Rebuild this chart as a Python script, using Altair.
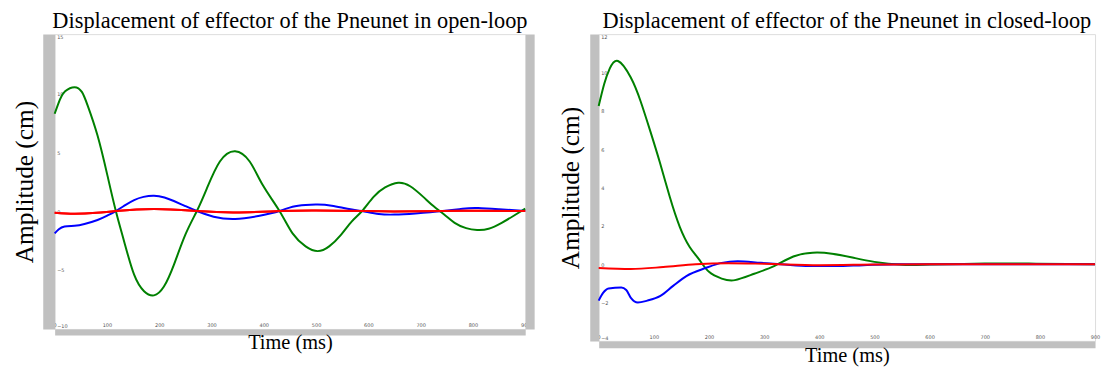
import altair as alt
import pandas as pd

# ---------------- open-loop panel ----------------
ol_green_t = [0, 10, 20, 38, 52, 63, 82, 101, 117, 133, 152, 171, 190, 209, 228, 250, 272, 291, 316, 345, 373, 398, 430, 455, 480, 503, 525, 548, 568, 588, 610, 632, 657, 680, 705, 725, 745, 765, 787, 808, 830, 855, 878, 900]
ol_green_v = [8.25, 9.45, 10.15, 10.5, 10.1, 8.96, 6.4, 3.0, 0.0, -2.6, -5.4, -6.8, -7.15, -6.4, -4.56, -2.0, 0.0, 1.9, 4.2, 5.07, 4.2, 2.2, 0.0, -1.9, -3.0, -3.4, -3.0, -2.0, -0.9, 0.0, 1.2, 2.0, 2.4, 2.1, 1.2, 0.4, -0.3, -1.0, -1.45, -1.6, -1.5, -1.0, -0.4, 0.2]

ol_blue_t = [0, 8, 19, 38, 57, 82, 100, 117, 135, 152, 170, 190, 210, 228, 250, 272, 304, 345, 392, 430, 455, 480, 503, 530, 560, 588, 620, 650, 690, 742, 780, 810, 850, 900]
ol_blue_v = [-1.9, -1.55, -1.32, -1.25, -1.1, -0.76, -0.4, 0.0, 0.5, 0.93, 1.2, 1.3, 1.15, 0.85, 0.42, 0.0, -0.48, -0.68, -0.4, 0.0, 0.37, 0.52, 0.55, 0.45, 0.2, 0.0, -0.25, -0.3, -0.2, 0.0, 0.2, 0.25, 0.15, 0.0]

ol_red_t = [0, 38, 80, 117, 190, 272, 345, 430, 500, 588, 650, 742, 810, 900]
ol_red_v = [-0.14, -0.23, -0.15, 0.0, 0.17, 0.0, -0.12, 0.0, 0.05, 0.0, -0.03, 0.0, 0.02, 0.0]

# ---------------- closed-loop panel ----------------
cl_green_t = [0, 10, 20, 35, 58, 76, 94, 111, 129, 147, 165, 182, 200, 223, 247, 282, 318, 353, 388, 423, 460, 500, 550, 600, 700, 780, 850, 900]
cl_green_v = [8.25, 9.4, 10.2, 10.6, 9.75, 8.5, 6.9, 5.3, 3.5, 1.95, 0.9, 0.25, -0.4, -0.75, -0.83, -0.5, -0.1, 0.4, 0.6, 0.55, 0.35, 0.12, -0.03, -0.02, 0.03, 0.03, 0.01, 0.0]

cl_blue_t = [0, 8, 18, 41, 50, 58, 71, 88, 112, 135, 159, 194, 223, 252, 294, 330, 382, 430, 480, 550, 700, 900]
cl_blue_v = [-1.9, -1.5, -1.27, -1.22, -1.35, -1.74, -2.0, -1.9, -1.65, -1.13, -0.62, -0.2, 0.07, 0.15, 0.07, 0.0, -0.1, -0.1, -0.05, 0.0, 0.0, 0.0]

cl_red_t = [0, 58, 117, 176, 235, 300, 400, 500, 600, 900]
cl_red_v = [-0.2, -0.25, -0.15, 0.0, 0.05, 0.02, -0.05, -0.02, 0.0, 0.0]

ol_y_ticks = [-10, -5, 0, 5, 10, 15]
cl_y_ticks = [-4, -2, 0, 2, 4, 6, 8, 10, 12]
x_ticks = [0, 100, 200, 300, 400, 500, 600, 700, 800, 900]

titles = ["Displacement of effector of the Pneunet in open-loop",
          "Displacement of effector of the Pneunet in closed-loop"]

GREEN, BLUE, RED = "#008000", "#0000ff", "#ff0000"
BAND = "#c0c0c0"
SERIF = "Liberation Serif"


def df(t, v):
    return pd.DataFrame({"t": t, "v": v})


def panel(series, ydom, yticks, title, w, h, band_l, band_b, right_band):
    xenc = alt.X(
        "t:Q",
        scale=alt.Scale(domain=[0, 900], nice=False, zero=False),
        axis=alt.Axis(
            values=x_ticks, title="Time (ms)", titleFont=SERIF, titleFontSize=20.5,
            titleFontWeight="normal", titleColor="#000", titlePadding=1,
            labelFont="DejaVu Sans", labelFontSize=5, labelColor="#555",
            labelPadding=-band_b / 2 - 6, ticks=False, grid=False,
            domainColor=BAND, domainWidth=band_b, offset=band_b / 2,
            labelOverlap=False, labelFlush=False,
        ),
    )
    yscale = alt.Scale(domain=ydom, nice=False, zero=False)
    yenc = alt.Y(
        "v:Q",
        scale=yscale,
        axis=alt.Axis(
            values=yticks, title="Amplitude (cm)", titleFont=SERIF, titleFontSize=25.5,
            titleFontWeight="normal", titleColor="#000", titlePadding=11,
            labelFont="DejaVu Sans", labelFontSize=5, labelColor="#555",
            labelAlign="left", labelPadding=-band_l / 2 - 2, ticks=False, grid=False,
            domainColor=BAND, domainWidth=band_l, offset=band_l / 2,
            labelOverlap=False, labelFlush=True,
        ),
    )
    lines = alt.layer(*[
        alt.Chart(df(t, v)).mark_line(color=c, strokeWidth=2, interpolate=ip)
        .encode(x=xenc, y=yenc)
        for (t, v), c, ip in series
    ])
    if right_band:
        (t, v), c, ip = series[-1]
        band = alt.Chart(df(t, v)).mark_line(color=c, strokeWidth=2, interpolate=ip).encode(
            x=xenc,
            y=alt.Y("v:Q", scale=yscale, title="",
                    axis=alt.Axis(orient="right", labels=False, ticks=False, title="",
                                  grid=False, domainColor=BAND, domainWidth=9, offset=4.5)),
        )
        ch = alt.layer(lines, band).resolve_axis(y="independent")
    else:
        ch = lines
    return ch.properties(
        width=w, height=h,
        title=alt.Title(title, font=SERIF, fontSize=22.5, fontWeight="normal", color="#000",
                        anchor="middle", offset=2),
    )


left = panel(
    [((ol_green_t, ol_green_v), GREEN, "natural"),
     ((ol_blue_t, ol_blue_v), BLUE, "natural"),
     ((ol_red_t, ol_red_v), RED, "natural")],
    [-10, 15], ol_y_ticks, titles[0], 474, 297, 12, 6, True)

right = panel(
    [((cl_green_t, cl_green_v), GREEN, "natural"),
     ((cl_blue_t, cl_blue_v), BLUE, "monotone"),
     ((cl_red_t, cl_red_v), RED, "monotone")],
    [-4, 12], cl_y_ticks, titles[1], 500, 309, 9, 7, False)

chart = alt.hconcat(left, right, spacing=27).properties(
    padding={"left": 4, "top": 0, "right": 0, "bottom": 0}
).configure_view(stroke="#666666", strokeWidth=1).configure(background="white")

chart.save("out.html", embed_options={"renderer": "svg", "actions": False})
